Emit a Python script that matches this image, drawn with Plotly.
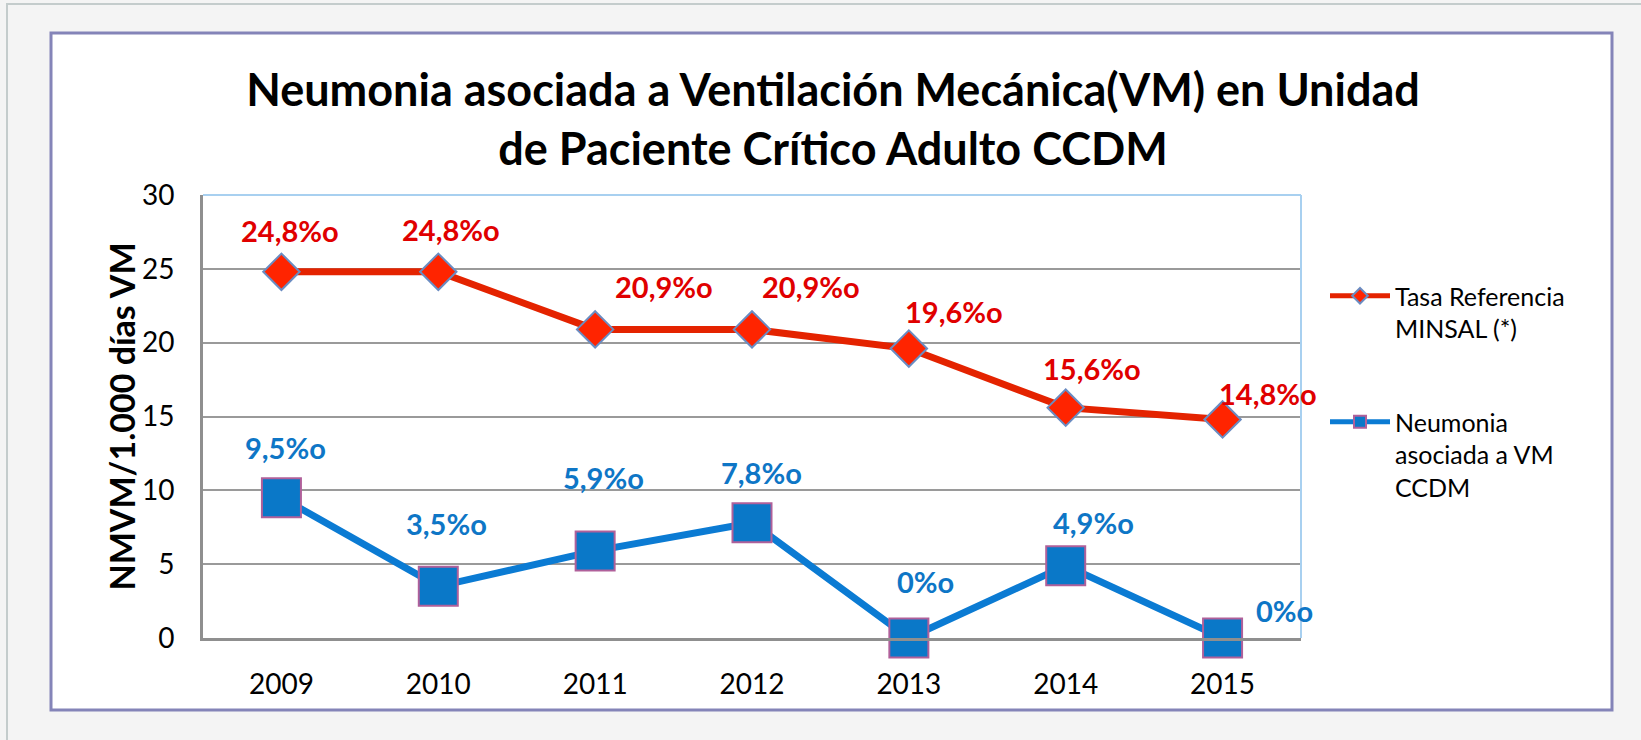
import plotly.graph_objects as go

years = ["2009", "2010", "2011", "2012", "2013", "2014", "2015"]
tasa_minsal = [24.8, 24.8, 20.9, 20.9, 19.6, 15.6, 14.8]
nmvm_ccdm = [9.5, 3.5, 5.9, 7.8, 0.0, 4.9, 0.0]
tasa_labels = ["24,8%o", "24,8%o", "20,9%o", "20,9%o", "19,6%o", "15,6%o", "14,8%o"]
nmvm_labels = ["9,5%o", "3,5%o", "5,9%o", "7,8%o", "0%o", "4,9%o", "0%o"]
y_ticks = [0, 5, 10, 15, 20, 25, 30]

# label offsets (px) as placed in the original chart
tasa_offsets = [(9, 41), (13, 42), (69, 43), (59, 43), (45, 37), (26, 39), (45, 26)]
nmvm_offsets = [(4, 50), (8, 63), (8, 73), (9, 50), (17, 57), (28, 43), (62, 28)]

W, H = 1641, 740
L, R, T, B = 203, 1301, 195, 638
pw, ph = R - L, B - T

def px(x):
    return (x - L) / pw

def py(y):
    return (B - y) / ph

FONT = "Lato"
RED = "#E42300"
BLUE = "#0B7BD3"

fig = go.Figure()
fig.add_trace(go.Scatter(
    x=years, y=tasa_minsal, mode="lines+markers",
    name="Tasa Referencia<br>MINSAL (*)", legendgroup="a", cliponaxis=False,
    line=dict(color=RED, width=7),
    marker=dict(symbol="diamond", size=28, color="#FF2400",
                line=dict(color="#6A8CC2", width=2)),
))
fig.add_trace(go.Scatter(
    x=years, y=nmvm_ccdm, mode="lines+markers",
    name="Neumonia<br>asociada a VM<br>CCDM", legendgroup="b", cliponaxis=False,
    line=dict(color=BLUE, width=7),
    marker=dict(symbol="square", size=39, color="#0A78C8",
                line=dict(color="#B0609A", width=2)),
))

annotations = []
for i, (v, lab, (dx, dy)) in enumerate(zip(tasa_minsal, tasa_labels, tasa_offsets)):
    annotations.append(dict(x=i, y=v, xref="x", yref="y", text=lab, showarrow=False,
                            xshift=dx, yshift=dy,
                            font=dict(family=FONT, size=29, color="#E00000", weight="bold")))
for i, (v, lab, (dx, dy)) in enumerate(zip(nmvm_ccdm, nmvm_labels, nmvm_offsets)):
    annotations.append(dict(x=i, y=v, xref="x", yref="y", text=lab, showarrow=False,
                            xshift=dx, yshift=dy,
                            font=dict(family=FONT, size=29, color="#0E76C6", weight="bold")))

# y-axis title
annotations.append(dict(x=px(121), y=0.5, xref="paper", yref="paper",
                        text="NMVM/1.000 días VM", textangle=-90, showarrow=False,
                        xanchor="center", yanchor="middle",
                        font=dict(family=FONT, size=34, color="black", weight="bold")))

shapes = [
    dict(type="rect", xref="paper", yref="paper", x0=px(7), x1=px(W + 20), y0=py(4), y1=py(H + 20),
         line=dict(color="#C4CCCC", width=2), fillcolor="#F4F4F4", layer="below"),
    dict(type="rect", xref="paper", yref="paper", x0=px(51), x1=px(1612), y0=py(33), y1=py(710),
         line=dict(color="#8484B8", width=3), fillcolor="white", layer="below"),
    dict(type="line", xref="paper", yref="paper", x0=0, x1=1, y0=1, y1=1,
         line=dict(color="#A8D0F0", width=2)),
    dict(type="line", xref="paper", yref="paper", x0=1, x1=1, y0=0, y1=1,
         line=dict(color="#A8D0F0", width=2)),
]

fig.update_layout(
    width=W, height=H,
    margin=dict(l=L, r=W - R, t=T, b=H - B),
    paper_bgcolor="#F4F4F4",
    plot_bgcolor="#EBEBEB",
    title=dict(text="Neumonia asociada a Ventilación Mecánica(VM) en Unidad<br>de Paciente Crítico Adulto CCDM",
               x=833 / W, xanchor="center", xref="container",
               y=1 - 106 / H, yanchor="middle", yref="container",
               font=dict(family=FONT, size=45, color="black", weight="bold")),
    xaxis=dict(type="category", range=[-0.5, 6.5], showgrid=False,
               showline=True, linecolor="#8F8F8F", linewidth=3,
               ticks="outside", ticklen=19, tickcolor="rgba(0,0,0,0)",
               tickfont=dict(family=FONT, size=28, color="black")),
    yaxis=dict(range=[0, 30], tickvals=y_ticks, showgrid=True, gridcolor="#9A9A9A", gridwidth=2,
               zeroline=False, showline=True, linecolor="#8F8F8F", linewidth=3,
               ticks="outside", ticklen=20, tickcolor="rgba(0,0,0,0)",
               tickfont=dict(family=FONT, size=28, color="black")),
    legend=dict(x=px(1325), xanchor="left", y=py(273), yanchor="top",
                bgcolor="rgba(0,0,0,0)", valign="top", tracegroupgap=58,
                itemsizing="constant", itemwidth=60,
                font=dict(family=FONT, size=25, color="black")),
    annotations=annotations,
    shapes=shapes,
)

fig.write_html("out.html", config={"displayModeBar": False},
               post_script="document.body.style.margin='0';")
